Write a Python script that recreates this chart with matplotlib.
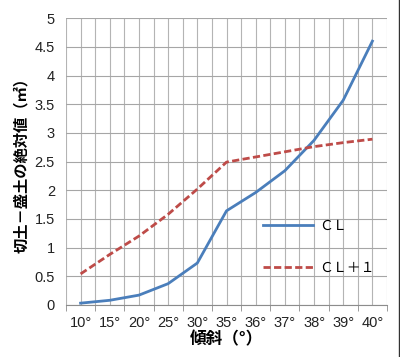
import matplotlib.pyplot as plt
import numpy as np

plt.rcParams['font.family'] = ['Noto Sans CJK JP', 'DejaVu Sans']

# data
angles = ['10°', '15°', '20°', '25°', '30°', '35°', '36°', '37°', '38°', '39°', '40°']
cl = [0.03, 0.08, 0.17, 0.37, 0.73, 1.64, 1.96, 2.34, 2.87, 3.57, 4.60]
cl_plus1 = [0.54, 0.88, 1.20, 1.58, 2.02, 2.49, 2.58, 2.67, 2.76, 2.83, 2.89]

fig = plt.figure(figsize=(4.0, 3.57), dpi=100)
ax = fig.add_axes([0.165, 0.146, 0.8025, 0.803])

x = np.arange(len(angles))
ax.plot(x, cl, color='#4a7ebb', lw=2.0, label='ＣＬ')
ax.plot(x, cl_plus1, color='#be4b48', lw=2.0, dashes=(2.6, 1.2), label='ＣＬ＋１')

ax.set_xlim(-0.5, len(angles) - 0.5)
ax.set_ylim(0, 5)
ax.set_yticks(np.arange(0, 5.01, 0.5))
ax.set_yticklabels(['0', '0.5', '1', '1.5', '2', '2.5', '3', '3.5', '4', '4.5', '5'])
ax.set_xticks(x)
ax.set_xticklabels(angles)
ax.set_xticks(np.arange(-0.5, len(angles), 1.0), minor=True)

# grid: horizontal at every 0.5, vertical at every half category
ax.grid(axis='y', color='#a6a6a6', lw=0.8)
for gx in np.arange(-0.5, len(angles), 0.5):
    ax.axvline(gx, color='#b4b4b4', lw=0.8, zorder=0)
ax.set_axisbelow(True)

for s in ['top', 'right', 'left']:
    ax.spines[s].set_visible(False)
ax.spines['bottom'].set_color('#8c8c8c')
ax.tick_params(axis='x', which='major', length=0, pad=8, labelsize=10.5, colors='#222222')
ax.tick_params(axis='x', which='minor', length=4, color='#8c8c8c')
ax.tick_params(axis='y', length=0, pad=8, labelsize=10.5, colors='#222222')
for lab in ax.get_xticklabels() + ax.get_yticklabels():
    lab.set_family(['Calibri', 'Liberation Sans', 'DejaVu Sans'])

ax.set_xlabel('傾斜（°）', fontsize=12, fontweight='bold', labelpad=0)
ax.set_ylabel('切土－盛土の絶対値（㎡）', fontsize=11, fontweight='bold', labelpad=4)

ax.legend(loc='upper left', bbox_to_anchor=(0.615, 0.30), frameon=False,
          handlelength=3.6, handletextpad=0.4, labelspacing=2.0,
          borderpad=0, borderaxespad=0, fontsize=10)

# dark edge on the right side of the picture
fig.lines.append(plt.Line2D([0.9985, 0.9985], [0, 1], transform=fig.transFigure,
                            color='#333333', lw=1.0))

fig.savefig('out.png', dpi=100)
